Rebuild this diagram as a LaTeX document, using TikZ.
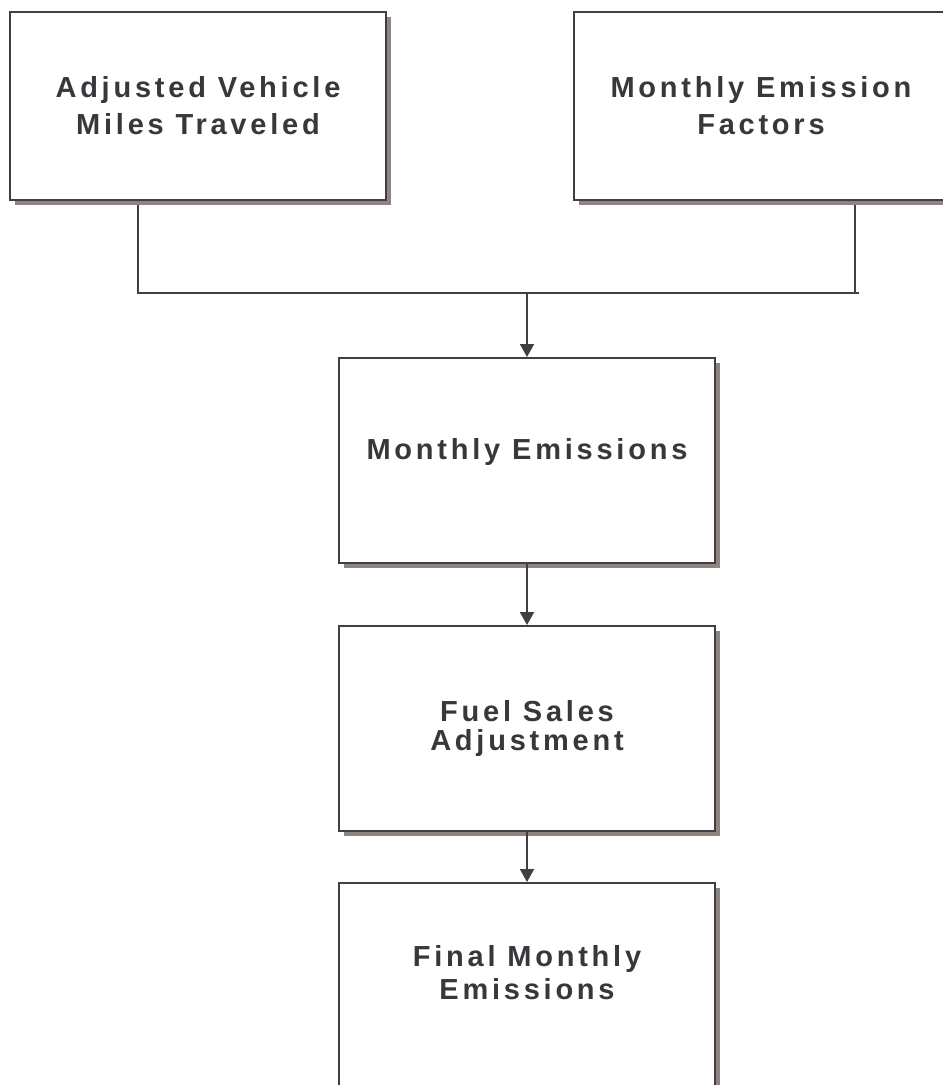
\documentclass[tikz,border=0pt]{standalone}
\usepackage{fontspec}
\setmainfont{Liberation Sans}[LetterSpace=13]
\usetikzlibrary{arrows.meta,shadows,backgrounds}
\definecolor{linegray}{HTML}{404044}
\definecolor{textgray}{HTML}{38383C}
\definecolor{shadowgray}{HTML}{8F8480}
\begin{document}
\begin{tikzpicture}[x=1pt,y=-1pt,
  stepbox/.style={draw=linegray, line width=2pt, fill=white,
    anchor=north west, inner sep=0pt, align=center, text=textgray,
    font=\bfseries\fontsize{29}{37}\selectfont,
    general shadow={fill=shadowgray, shadow xshift=5pt, shadow yshift=-5pt}},
  link/.style={draw=linegray, line width=2pt},
  flow/.style={link, -{Triangle[width=14pt,length=13pt]}}]
\clip (0,0) rectangle (943,1085);

% input boxes
\node[stepbox, minimum width=376pt, minimum height=188pt] (avmt) at (9,11)
  {Adjusted Vehicle\\Miles Traveled};
\node[stepbox, minimum width=374pt, minimum height=188pt] (mef) at (573,11)
  {Monthly Emission\\Factors};

% processing chain
\node[stepbox, minimum width=376pt, minimum height=205pt] (me) at (338,357)
  {\raisebox{24pt}{Monthly Emissions}};
\node[stepbox, minimum width=376pt, minimum height=205pt,
  font=\bfseries\fontsize{29}{29}\selectfont] (fsa) at (338,625)
  {Fuel Sales\\Adjustment};
\node[stepbox, minimum width=376pt, minimum height=220pt,
  font=\bfseries\fontsize{29}{33}\selectfont] (fme) at (338,882)
  {Final Monthly\\Emissions\\[8pt]\mbox{}};

% junction of the two inputs
\coordinate (j) at (527,293);
\coordinate (jr) at (859,293);
\begin{scope}[on background layer]
  \draw[link] ([xshift=129pt]avmt.south west) |- (jr);
  \draw[link] ([xshift=282pt]mef.south west) -- ([xshift=282pt]mef.south west |- jr);
\end{scope}

% arrows down the chain
\draw[flow] (j) -- (me.north);
\draw[flow] (me.south) -- (fsa.north);
\draw[flow] (fsa.south) -- (fme.north);
\end{tikzpicture}
\end{document}
